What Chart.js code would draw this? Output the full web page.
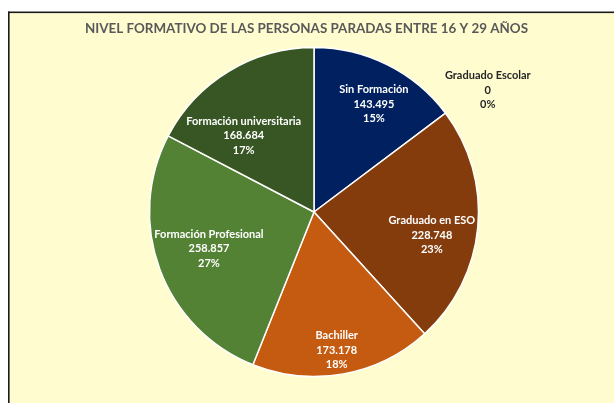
<!DOCTYPE html>
<html><head><meta charset="utf-8">
<script src="https://cdn.jsdelivr.net/npm/chart.js@4.4.1/dist/chart.umd.min.js"></script>
<style>html,body{margin:0;padding:0;background:#fff;overflow:hidden}#wrap{position:absolute;left:0;top:0;width:614px;height:403px}</style>
</head><body><div id="wrap"><canvas id="c" width="614" height="403"></canvas></div>
<script>
const chartTitle = 'NIVEL FORMATIVO DE LAS PERSONAS PARADAS ENTRE 16 Y 29 AÑOS';
const categories = ['Sin Formación', 'Graduado Escolar', 'Graduado en ESO', 'Bachiller', 'Formación Profesional', 'Formación universitaria'];
const personas = [143495, 0, 228748, 173178, 258857, 168684];
const percentLabels = ['15%', '0%', '23%', '18%', '27%', '17%'];

const sliceColors = ['#002060', '#7F6000', '#843C0C', '#C55A11', '#548235', '#375623'];
const labelColors = ['#FFFFFF', '#262626', '#FFFFFF', '#FFFFFF', '#FFFFFF', '#FFFFFF'];
// label placement: fraction of radius, angular shift (deg) from slice middle
const labelPlacement = [
  {r: 0.75, da: 2.5}, {r: 1.29, da: 1.9}, {r: 0.73, da: 5.7},
  {r: 0.85, da: 0.9}, {r: 0.676, da: 1.1}, {r: 0.63, da: -11.5}
];
const FONT = 'Lato, "Open Sans", sans-serif';

function fmt(n) {
  return String(n).replace(/\B(?=(\d{3})+(?!\d))/g, '.');
}

const backgroundPlugin = {
  id: 'bgFrame',
  beforeDraw(chart) {
    const ctx = chart.ctx;
    ctx.save();
    ctx.fillStyle = '#FFFFFF';
    ctx.fillRect(0, 0, chart.width, chart.height);
    ctx.fillStyle = '#FFFDD0';
    ctx.fillRect(9.5, 13, chart.width, chart.height);
    ctx.fillStyle = '#1a1a1a';
    ctx.fillRect(8, 11.5, chart.width, 1.6);
    ctx.fillRect(8, 11.5, 1.6, chart.height);
    ctx.fillStyle = '#595959';
    ctx.font = 'bold 13.4px ' + FONT;
    ctx.textAlign = 'center';
    ctx.textBaseline = 'middle';
    ctx.fillText(chartTitle, 306.5, 28.5);
    ctx.restore();
  }
};

const labelPlugin = {
  id: 'sliceLabels',
  afterDatasetsDraw(chart) {
    const ctx = chart.ctx;
    const meta = chart.getDatasetMeta(0);
    ctx.save();
    ctx.font = 'bold 11px ' + FONT;
    ctx.textAlign = 'center';
    ctx.textBaseline = 'middle';
    meta.data.forEach((arc, i) => {
      const p = arc.getProps(['x', 'y', 'startAngle', 'endAngle', 'outerRadius'], true);
      const pl = labelPlacement[i];
      const a = (p.startAngle + p.endAngle) / 2 + pl.da * Math.PI / 180;
      const cx = p.x + Math.cos(a) * p.outerRadius * pl.r;
      const cy = p.y + Math.sin(a) * p.outerRadius * pl.r;
      const lines = [categories[i], fmt(personas[i]), percentLabels[i]];
      ctx.fillStyle = labelColors[i];
      lines.forEach((t, k) => ctx.fillText(t, cx, cy + (k - 1) * 14.5));
    });
    ctx.restore();
  }
};

new Chart(document.getElementById('c'), {
  type: 'pie',
  data: {
    labels: categories,
    datasets: [{
      data: personas,
      backgroundColor: sliceColors,
      borderColor: '#FFFFFF',
      borderWidth: 1.5,
      radius: 164.5
    }]
  },
  options: {
    responsive: false,
    animation: false,
    events: [],
    layout: {padding: {top: 40, bottom: 19, left: 30, right: 16}},
    plugins: {legend: {display: false}, tooltip: {enabled: false}, title: {display: false}}
  },
  plugins: [backgroundPlugin, labelPlugin]
});
</script></body></html>
